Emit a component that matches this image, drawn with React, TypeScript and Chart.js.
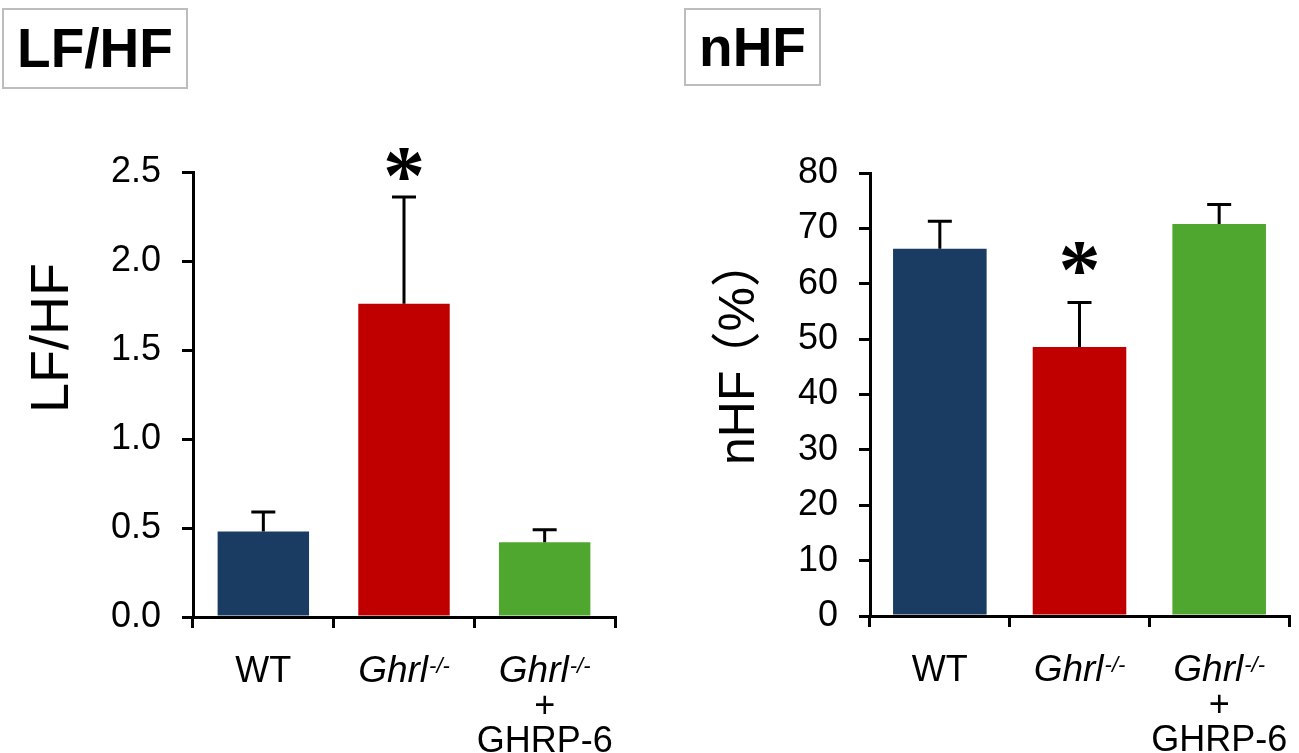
import React, { useEffect, useRef } from 'react';
import { Chart, registerables } from 'chart.js';

Chart.register(...registerables);

const SANS = "'Liberation Sans', Arial, 'Noto Sans CJK JP', sans-serif";
const STAR_FONT = "'Liberation Serif', 'Times New Roman', serif";

// ---- data ----
const categories = ['WT', 'Ghrl-/-', 'Ghrl-/-\n+\nGHRP-6'];
const barColors = ['#1b3c62', '#c00000', '#4fa72f'];

const lfhfTitle = 'LF/HF';
const lfhfAxisTitle = 'LF/HF';
const lfhfMeans = [0.48, 1.76, 0.42];
const lfhfErrTops = [0.59, 2.36, 0.49];
const lfhfStars = [false, true, false];
const lfhfMax = 2.5;
const lfhfStep = 0.5;

const nhfTitle = 'nHF';
const nhfAxisTitle = 'nHF（%）';
const nhfMeans = [66.3, 48.6, 70.8];
const nhfErrTops = [71.3, 56.6, 74.3];
const nhfStars = [false, true, false];
const nhfMax = 80;
const nhfStep = 10;

type PanelCfg = {
  means: number[];
  errTops: number[];
  stars: boolean[];
  max: number;
  step: number;
  decimals: number;
  axisTitle: string;
  titleSize: number;
  titleX: number;
  titleY: number;
  yWidth: number;
  padRight: number;
  padTop: number;
  xHeight: number;
  barPct: number;
  starGap: number;
};

function drawCatLabel(ctx: CanvasRenderingContext2D, text: string, cx: number, baseY: number) {
  const lines = text.split('\n');
  const LH = 35;
  lines.forEach((line, li) => {
    const yb = baseY + li * LH;
    const m = line.match(/^(.*?)(-\/-)$/);
    ctx.fillStyle = '#000';
    ctx.textBaseline = 'alphabetic';
    if (m) {
      ctx.font = `italic 37px ${SANS}`;
      const w1 = ctx.measureText(m[1]).width;
      ctx.font = `italic 22px ${SANS}`;
      const w2 = ctx.measureText(m[2]).width;
      const start = cx - (w1 + w2 + 1) / 2;
      ctx.textAlign = 'left';
      ctx.font = `italic 37px ${SANS}`;
      ctx.fillText(m[1], start, yb);
      ctx.font = `italic 22px ${SANS}`;
      ctx.fillText(m[2], start + w1 + 1, yb - 9);
    } else {
      ctx.font = `36px ${SANS}`;
      ctx.textAlign = 'center';
      ctx.fillText(line, cx, yb);
    }
  });
}

function drawStar(ctx: CanvasRenderingContext2D, cx: number, cy: number, targetH: number) {
  ctx.font = `bold 100px ${STAR_FONT}`;
  const m0 = ctx.measureText('*');
  const h0 = m0.actualBoundingBoxAscent + m0.actualBoundingBoxDescent || 45;
  const size = (100 * targetH) / h0;
  ctx.font = `bold ${size}px ${STAR_FONT}`;
  const m = ctx.measureText('*');
  ctx.textAlign = 'center';
  ctx.textBaseline = 'alphabetic';
  const base = cy + (m.actualBoundingBoxAscent - m.actualBoundingBoxDescent) / 2;
  ctx.fillText('*', cx, base);
}

// draws the (already rotated) axis title centred on 0,0, tightening the
// blank half of a full-width opening parenthesis
function drawAxisTitle(ctx: CanvasRenderingContext2D, text: string, size: number) {
  ctx.font = `${size}px ${SANS}`;
  ctx.textBaseline = 'middle';
  ctx.textAlign = 'left';
  const idx = text.indexOf('（');
  if (idx < 0) {
    ctx.textAlign = 'center';
    ctx.fillText(text, 0, 0);
    return;
  }
  const a = text.slice(0, idx);
  const b = text.slice(idx);
  const tighten = size * 0.22;
  const wa = ctx.measureText(a).width;
  const mb = ctx.measureText(b);
  const visEnd = mb.actualBoundingBoxRight || mb.width;
  const total = wa - tighten + visEnd;
  const start = -total / 2;
  ctx.fillText(a, start, 0);
  ctx.fillText(b, start + wa - tighten, 0);
}

const annotPlugin = {
  id: 'annot',
  afterDatasetsDraw(chart: any, _args: any, opts: any) {
    const cfg: PanelCfg = opts.cfg;
    if (!cfg) return;
    const ctx: CanvasRenderingContext2D = chart.ctx;
    const y = chart.scales.y;
    const meta = chart.getDatasetMeta(0);
    ctx.save();
    ctx.strokeStyle = '#000';
    ctx.fillStyle = '#000';
    ctx.lineWidth = 3;
    cfg.errTops.forEach((v, i) => {
      const bar = meta.data[i];
      const cx = bar.x;
      const yTop = y.getPixelForValue(v);
      const yBar = y.getPixelForValue(cfg.means[i]);
      ctx.beginPath();
      ctx.moveTo(cx, yBar);
      ctx.lineTo(cx, yTop);
      ctx.moveTo(cx - 12, yTop);
      ctx.lineTo(cx + 12, yTop);
      ctx.stroke();
      if (cfg.stars[i]) {
        drawStar(ctx, cx, yTop - cfg.starGap, 32);
      }
    });
    const xBase = chart.chartArea.bottom;
    categories.forEach((c, i) => {
      drawCatLabel(ctx, c, meta.data[i].x, xBase + 65);
    });
    ctx.translate(cfg.titleX, cfg.titleY);
    ctx.rotate(-Math.PI / 2);
    drawAxisTitle(ctx, cfg.axisTitle, cfg.titleSize);
    ctx.restore();
  },
};

function makeChart(canvas: HTMLCanvasElement, cfg: PanelCfg) {
  return new Chart(canvas, {
    type: 'bar',
    data: {
      labels: categories,
      datasets: [
        {
          data: cfg.means,
          backgroundColor: barColors,
          borderWidth: 0,
          barPercentage: cfg.barPct,
          categoryPercentage: 1,
        },
      ],
    },
    options: {
      responsive: false,
      animation: false,
      devicePixelRatio: 1,
      layout: { padding: { top: cfg.padTop, right: cfg.padRight, left: 0, bottom: 0 } },
      plugins: {
        legend: { display: false },
        tooltip: { enabled: false },
        title: { display: false },
        annot: { cfg },
      } as any,
      scales: {
        x: {
          type: 'category',
          offset: true,
          ticks: { display: false },
          grid: {
            display: true,
            offset: true,
            drawOnChartArea: false,
            drawTicks: true,
            tickLength: 11,
            color: '#000',
            lineWidth: 3,
          },
          border: { display: true, color: '#000', width: 3 },
          afterFit: (s: any) => {
            s.height = cfg.xHeight;
          },
        },
        y: {
          min: 0,
          max: cfg.max,
          ticks: {
            stepSize: cfg.step,
            color: '#000',
            padding: 21,
            font: { family: SANS, size: 36 },
            callback: (v: any) => Number(v).toFixed(cfg.decimals),
          },
          grid: {
            display: true,
            drawOnChartArea: false,
            drawTicks: true,
            tickLength: 11,
            color: '#000',
            lineWidth: 3,
          },
          border: { display: true, color: '#000', width: 3 },
          afterFit: (s: any) => {
            s.width = cfg.yWidth;
          },
        },
      },
    } as any,
    plugins: [annotPlugin as any],
  });
}

const leftCfg: PanelCfg = {
  means: lfhfMeans,
  errTops: lfhfErrTops,
  stars: lfhfStars,
  max: lfhfMax,
  step: lfhfStep,
  decimals: 1,
  axisTitle: lfhfAxisTitle,
  titleSize: 54,
  titleX: 53,
  titleY: 338,
  yWidth: 193,
  padRight: 35,
  padTop: 172,
  xHeight: 136,
  barPct: 0.65,
  starGap: 33,
};

const rightCfg: PanelCfg = {
  means: nhfMeans,
  errTops: nhfErrTops,
  stars: nhfStars,
  max: nhfMax,
  step: nhfStep,
  decimals: 0,
  axisTitle: nhfAxisTitle,
  titleSize: 50,
  titleX: 90,
  titleY: 368,
  yWidth: 220,
  padRight: 10,
  padTop: 173,
  xHeight: 137,
  barPct: 0.67,
  starGap: 45,
};

function Panel({ cfg, left, width }: { cfg: PanelCfg; left: number; width: number }) {
  const ref = useRef<HTMLCanvasElement | null>(null);
  useEffect(() => {
    if (!ref.current) return;
    const ch = makeChart(ref.current, cfg);
    return () => ch.destroy();
  }, [cfg]);
  return (
    <canvas
      ref={ref}
      width={width}
      height={753}
      style={{ position: 'absolute', left, top: 0, width, height: 753 }}
    />
  );
}

function TitleBox({ text, left, width, height }: { text: string; left: number; width: number; height: number }) {
  return (
    <div
      style={{
        position: 'absolute',
        left,
        top: 8,
        width,
        height,
        boxSizing: 'border-box',
        border: '2px solid #bdbdbd',
        display: 'flex',
        alignItems: 'center',
        justifyContent: 'center',
        fontFamily: SANS,
        fontWeight: 'bold',
        fontSize: 55,
        color: '#000',
        lineHeight: 1,
      }}
    >
      {text}
    </div>
  );
}

export default function App() {
  return (
    <div style={{ position: 'absolute', left: 0, top: 0, width: 1299, height: 753, background: '#fff', overflow: 'hidden' }}>
      <Panel cfg={leftCfg} left={0} width={650} />
      <Panel cfg={rightCfg} left={650} width={649} />
      <TitleBox text={lfhfTitle} left={2} width={186} height={81} />
      <TitleBox text={nhfTitle} left={684} width={137} height={78} />
    </div>
  );
}
